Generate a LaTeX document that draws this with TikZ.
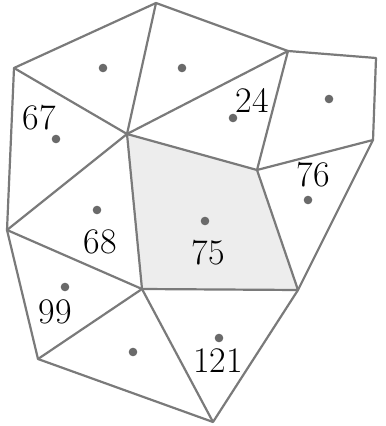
\documentclass[tikz,border=0pt]{standalone}
\definecolor{edgegray}{HTML}{7A7A7A}
\definecolor{dotgray}{HTML}{6A6A6A}
\definecolor{cellfill}{HTML}{EDEDED}
\usepackage{tikz}
\usetikzlibrary{calc}

\tikzset{
  edge/.style={edgegray, line width=1.1pt, line join=round},
  site/.style={circle, fill=dotgray, inner sep=0pt, minimum size=4.3pt},
  num/.style={font=\fontsize{18}{20}\selectfont, inner sep=0pt}
}

\begin{document}
\begin{tikzpicture}[x=0.5pt, y=-0.5pt]
  \useasboundingbox (0,0) rectangle (385,426);
  % Mesh vertices
  \coordinate (p1) at (14,68);
  \coordinate (p2) at (156,3);
  \coordinate (p3) at (127,134);
  \coordinate (p4) at (288,51);
  \coordinate (p5) at (376,58);
  \coordinate (p6) at (373,140);
  \coordinate (p7) at (257,170);
  \coordinate (p8) at (7,230);
  \coordinate (p9) at (142,289);
  \coordinate (p10) at (38,359);
  \coordinate (p11) at (298,290);
  \coordinate (p12) at (213,422);

  % Shaded cell
  \fill[cellfill] (p3) -- (p7) -- (p11) -- (p9) -- cycle;

  % Outer boundary
  \draw[edge] (p1) -- (p2) -- (p4) -- (p5) -- (p6) -- (p11) -- (p12) -- (p10) -- (p8) -- cycle;
  % Inner edges
  \draw[edge] (p1) -- (p3) -- (p2);
  \draw[edge] (p3) -- (p4) -- (p7) -- (p6);
  \draw[edge] (p3) -- (p7) -- (p11) -- (p9) -- cycle;
  \draw[edge] (p3) -- (p8) -- (p9) -- (p10);
  \draw[edge] (p9) -- (p12);

  % Cell sites
  \node[site] (s1) at (103,68) {};
  \node[site] (s2) at (182,68) {};
  \node[site] (s3) at (329,99) {};
  \node[site] (s67) at (56,139) {};
  \node[site] (s24) at (233,118) {};
  \node[site] (s76) at (308,200) {};
  \node[site] (s68) at (97,210) {};
  \node[site] (s75) at (205,221) {};
  \node[site] (s99) at (65,287) {};
  \node[site] (s4) at (133,352) {};
  \node[site] (s121) at (219,338) {};

  % Labels
  \node[num] (l67) at (39,118) {67};
  \node[num] (l24) at (252,100) {24};
  \node[num] (l76) at (313,175) {76};
  \node[num] (l68) at (100,242) {68};
  \node[num] (l75) at (208,253) {75};
  \node[num] (l99) at (55,312) {99};
  \node[num] (l121) at (218,361) {121};
\end{tikzpicture}
\end{document}
